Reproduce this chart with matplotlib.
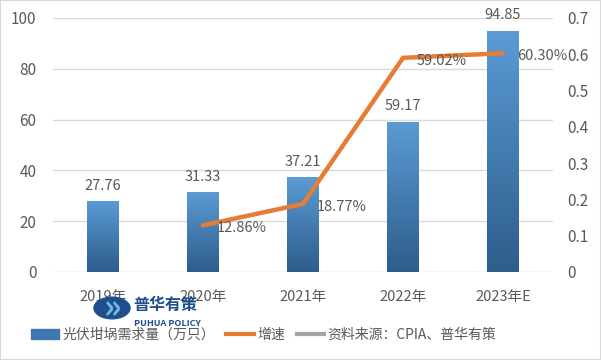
import numpy as np
import matplotlib.pyplot as plt
from matplotlib.colors import LinearSegmentedColormap
from matplotlib.lines import Line2D
from matplotlib.patches import Rectangle, Circle

plt.rcParams['font.family'] = ['Noto Sans CJK SC', 'DejaVu Sans']

# 数据
years = ['2019年', '2020年', '2021年', '2022年', '2023年E']
demand = [27.76, 31.33, 37.21, 59.17, 94.85]      # 光伏坩埚需求量（万只）
growth = [None, 0.1286, 0.1877, 0.5902, 0.6030]   # 增速
growth_labels = ['', '12.86%', '18.77%', '59.02%', '60.30%']

txt = '#595959'
fig = plt.figure(figsize=(6.01, 3.6), dpi=100)
ax = fig.add_axes([53/601, 1-272/360, 500/601, 254/360])
ax2 = ax.twinx()

x = np.arange(len(years))
bars = ax.bar(x, demand, width=0.32, color='none', zorder=2)
cmap = LinearSegmentedColormap.from_list('b', ['#2d5d8b', '#5b9bd5'])
grad = np.linspace(0, 1, 256).reshape(-1, 1)
for b in bars:
    x0, w, h = b.get_x(), b.get_width(), b.get_height()
    im = ax.imshow(grad, cmap=cmap, aspect='auto', origin='lower',
                   extent=[x0, x0 + w, 0, h], zorder=2)
    im.set_clip_path(b)
for i, v in enumerate(demand):
    ax.text(i, v + 3.5, f'{v:.2f}', ha='center', va='bottom', fontsize=10.5, color=txt)

ax.set_xlim(-0.5, len(years) - 0.5)
ax.set_ylim(0, 100)
ax.set_yticks(range(0, 101, 20))
ax.grid(axis='y', color='#d9d9d9', linewidth=1, zorder=0)
ax.set_axisbelow(True)
ax.set_xticks(x)
ax.set_xticklabels(years)
ax.tick_params(axis='x', length=0, pad=13, labelsize=10.5, labelcolor=txt)
ax.tick_params(axis='y', length=0, pad=12, labelsize=11, labelcolor=txt)

gx = [i for i, g in enumerate(growth) if g is not None]
gy = [g for g in growth if g is not None]
ax2.plot(gx, gy, color='#e67c35', linewidth=3.2, solid_capstyle='round', zorder=3)
for i in gx:
    ax2.text(i + 0.14, growth[i] - 0.008, growth_labels[i], ha='left', va='center',
             fontsize=10.5, color=txt)
ax2.set_ylim(0, 0.7)
ax2.set_yticks(np.arange(0, 0.71, 0.1))
ax2.set_yticklabels(['0', '0.1', '0.2', '0.3', '0.4', '0.5', '0.6', '0.7'])
ax2.tick_params(axis='y', length=0, pad=10, labelsize=11, labelcolor=txt)

for a in (ax, ax2):
    for s in a.spines.values():
        s.set_visible(False)

# 图例
handles = [Rectangle((0, 0), 1, 1, color='#3f78b0'),
           Line2D([], [], color='#e67c35', linewidth=3),
           Line2D([], [], color='#a5a5a5', linewidth=3)]
labels = ['光伏坩埚需求量（万只）', '增速', '资料来源：CPIA、普华有策']
fig.legend(handles, labels, loc='center', bbox_to_anchor=(264/601, 1-335/360), ncol=3,
           frameon=False, fontsize=10, handlelength=2.0, handletextpad=0.25,
           columnspacing=0.8, labelcolor=txt, borderpad=0)

# 水印
fig.patches.append(Circle((112/601, 1-308/360), 18/601, transform=fig.transFigure,
                          color='#1f4e8c', zorder=5))
fig.text(113/601, 1-309/360, '»', color='#6fb6e8', fontsize=24, ha='center',
         va='center', fontweight='bold', zorder=6)
fig.text(133/601, 1-305/360, '普华有策', color='#1f4e8c', fontsize=11.5,
         fontweight='bold', ha='left', va='center', zorder=6)
fig.text(134/601, 1-323/360, 'PUHUA POLICY', color='#1f4e8c', fontsize=6.5,
         fontweight='bold', ha='left', va='center', zorder=6)

fig.patches.append(Rectangle((0, 0), 1, 1, transform=fig.transFigure, fill=False,
                             edgecolor='#d9d9d9', linewidth=1.5))
fig.savefig('out.png', dpi=100)
